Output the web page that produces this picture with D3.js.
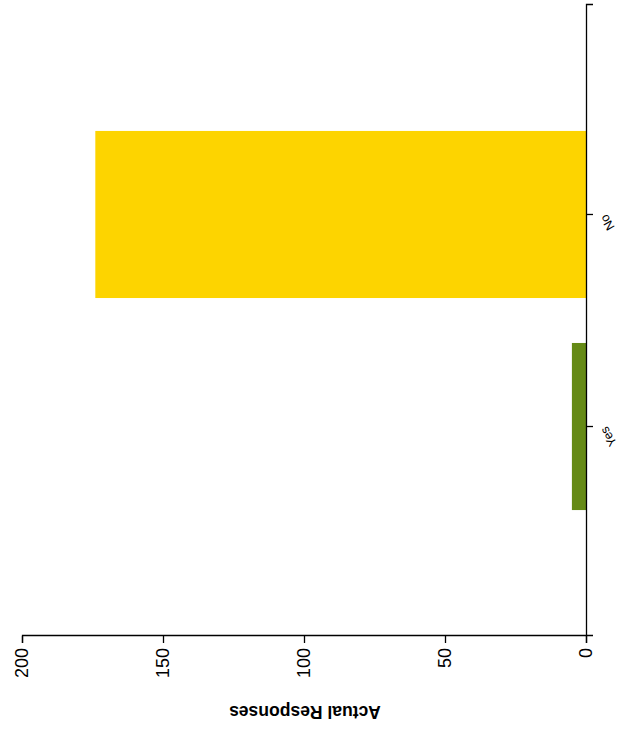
<!DOCTYPE html>
<html>
<head>
<meta charset="utf-8">
<script src="https://cdn.jsdelivr.net/npm/d3@7"></script>
<style>
  html, body { margin: 0; padding: 0; background: #fff; }
  svg { display: block; }
  text { font-family: "Liberation Sans", Arial, sans-serif; fill: #000; }
</style>
</head>
<body>
<script>
const categories = ["Yes", "No"];
const values = [5, 174];
const colors = ["#658A15", "#FDD400"];
const valueTicks = [0, 50, 100, 150, 200];
const valueLabel = "Actual Responses";

const W = 619, H = 731;
const svg = d3.select("body").append("svg").attr("width", W).attr("height", H);

// Chart drawn as a vertical bar chart, then rotated -90 degrees as in the reference
const innerW = 631, innerH = 564;
const g = svg.append("g").attr("transform", "translate(22,636) rotate(-90)");

const x = d3.scaleBand().domain(categories).range([0, innerW]).paddingInner(0.212).paddingOuter(0.594);
const y = d3.scaleLinear().domain([0, 200]).range([innerH, 0]);

g.selectAll("rect.bar")
  .data(categories)
  .enter().append("rect")
  .attr("class", "bar")
  .attr("x", d => x(d))
  .attr("width", x.bandwidth())
  .attr("y", (d, i) => y(values[i]))
  .attr("height", (d, i) => y(0) - y(values[i]))
  .attr("fill", (d, i) => colors[i]);

// value axis (left in inner coordinates -> bottom on screen)
const yAxis = g.append("g")
  .call(d3.axisLeft(y).tickValues(valueTicks).tickSize(7).tickPadding(5).tickFormat(d3.format("d")));
yAxis.selectAll("text").style("font-size", "18px");

// category axis (bottom in inner coordinates -> right on screen)
const xAxis = g.append("g")
  .attr("transform", `translate(0,${innerH})`)
  .call(d3.axisBottom(x).tickSize(7));
xAxis.selectAll("text")
  .style("font-size", "12.5px")
  .attr("text-anchor", "end")
  .attr("x", 0)
  .attr("y", 0)
  .attr("dy", 0)
  .attr("transform", "translate(1,21) rotate(-30)");

g.selectAll(".domain, .tick line").attr("stroke", "#000").attr("stroke-width", 1.3);
g.selectAll(".tick text").attr("fill", "#000");

// axis title
g.append("text")
  .attr("transform", `translate(-76,${y(0) - (586 - 305)}) rotate(-90)`)
  .attr("text-anchor", "middle")
  .attr("dy", "0.35em")
  .style("font-size", "17.5px")
  .style("font-weight", "bold")
  .text(valueLabel);
</script>
</body>
</html>
